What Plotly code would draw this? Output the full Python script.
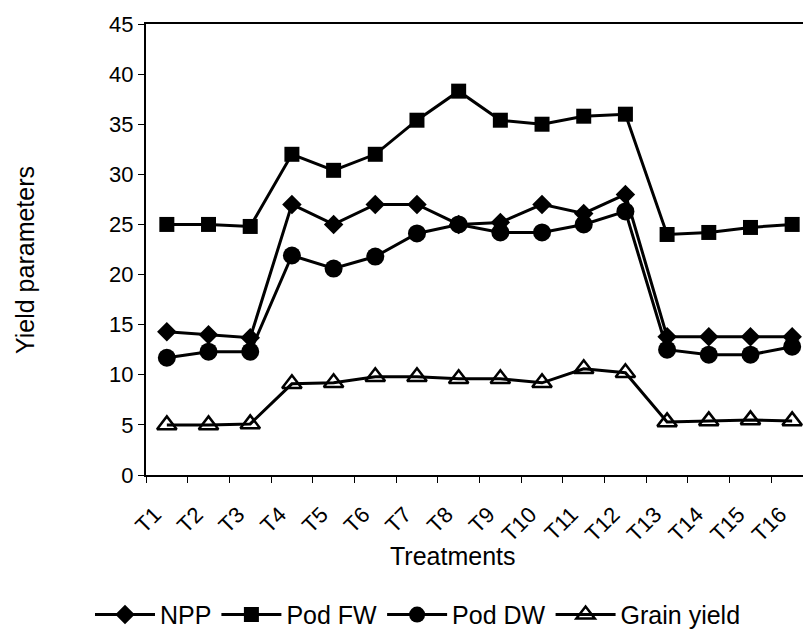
import plotly.graph_objects as go

treatments = [f"T{i}" for i in range(1, 17)]
npp = [14.3, 14.0, 13.7, 27.0, 25.0, 27.0, 27.0, 25.0, 25.2, 27.0, 26.1, 28.0, 13.8, 13.8, 13.8, 13.8]
pod_fw = [25.0, 25.0, 24.8, 32.0, 30.4, 32.0, 35.4, 38.3, 35.4, 35.0, 35.8, 36.0, 24.0, 24.2, 24.7, 25.0]
pod_dw = [11.7, 12.3, 12.3, 21.9, 20.6, 21.8, 24.1, 25.0, 24.2, 24.2, 25.0, 26.3, 12.5, 12.0, 12.0, 12.8]
grain_yield = [5.0, 5.0, 5.1, 9.1, 9.2, 9.8, 9.8, 9.6, 9.6, 9.2, 10.6, 10.2, 5.3, 5.4, 5.5, 5.4]
series_names = ["NPP", "Pod FW", "Pod DW", "Grain yield"]

FONT = "Liberation Sans, Arial, sans-serif"
fig = go.Figure()
markers = [
    dict(symbol="diamond", size=15, color="black"),
    dict(symbol="square", size=15, color="black"),
    dict(symbol="circle", size=18, color="black"),
    dict(symbol="triangle-up-open", size=17, color="black", line=dict(width=2.5, color="black")),
]
for name, vals, mk in zip(series_names, [npp, pod_fw, pod_dw, grain_yield], markers):
    fig.add_trace(go.Scatter(x=treatments, y=vals, name=name, mode="lines+markers",
                             line=dict(color="black", width=3), marker=mk))

fig.update_layout(
    width=803, height=643,
    margin=dict(l=146, r=0, t=24, b=168, autoexpand=False),
    paper_bgcolor="white", plot_bgcolor="white",
    font=dict(family=FONT, color="black"),
    showlegend=True,
    legend=dict(orientation="h", x=0.414, xanchor="center", y=-0.31, yanchor="middle",
                itemwidth=60, font=dict(size=25, family=FONT), bgcolor="rgba(0,0,0,0)"),
    xaxis=dict(type="category", range=[-0.5, 15.26], showline=True, linecolor="black", linewidth=2,
               mirror=True, ticks="outside", tickson="boundaries", ticklen=6, tickcolor="black",
               tickangle=-45, tickfont=dict(size=22, family=FONT), ticklabelshift=-12,
               ticklabelstandoff=16, showgrid=False, zeroline=False, automargin=False),
    yaxis=dict(range=[0, 45], dtick=5, showline=True, linecolor="black", linewidth=2,
               ticks="outside", ticklen=6, tickcolor="black", tickfont=dict(size=22, family=FONT),
               showgrid=False, zeroline=False, automargin=False),
    annotations=[
        dict(text="Treatments", xref="paper", yref="paper", x=0.467, y=(475 - 556) / 451,
             showarrow=False, font=dict(size=25, family=FONT), xanchor="center", yanchor="middle"),
        dict(text="Yield parameters", xref="paper", yref="paper", x=(25 - 146) / 657, y=(475 - 260) / 451,
             showarrow=False, textangle=-90, font=dict(size=25, family=FONT),
             xanchor="center", yanchor="middle"),
    ],
)
fig.write_html("out.html")
